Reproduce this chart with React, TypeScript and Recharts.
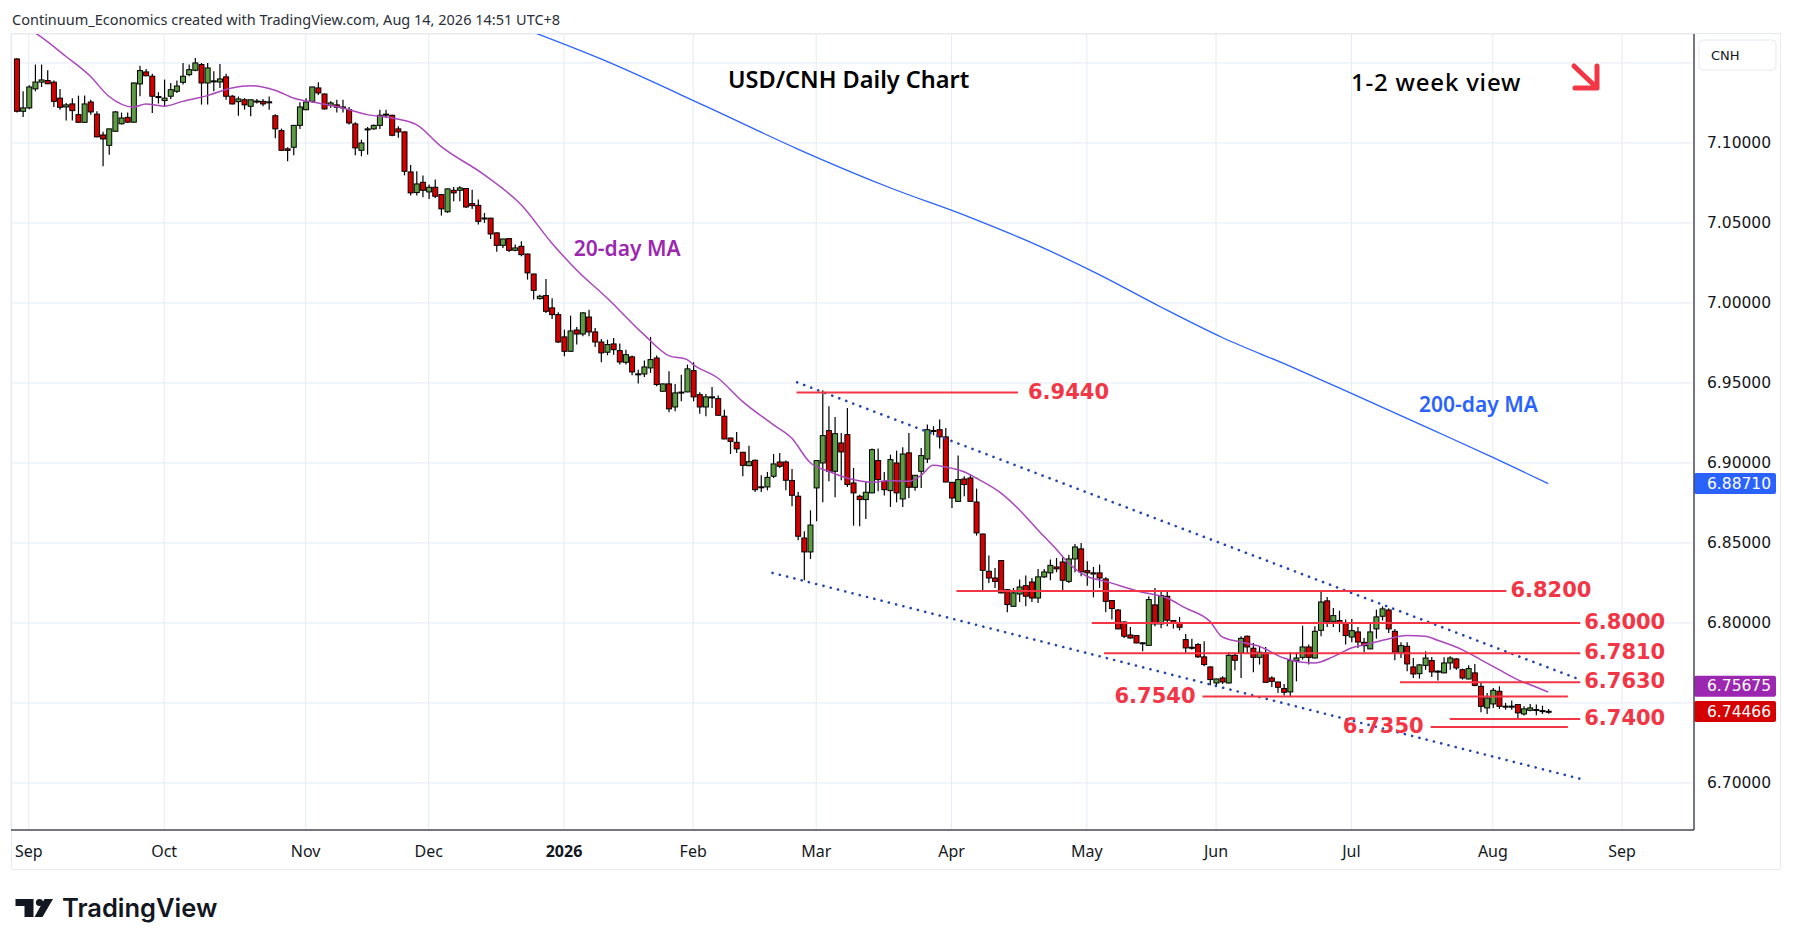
import React from "react";
import {
  ComposedChart,
  Bar,
  Line,
  XAxis,
  YAxis,
  CartesianGrid,
  ReferenceLine,
  ReferenceDot,
} from "recharts";

// candles as [open, high, low, close], one array per month
const aug25 = [
  [7.1525, 7.153, 7.119, 7.1198],
  [7.1198, 7.1323, 7.1163, 7.1219],
];
const sep25 = [
  [7.1219, 7.136, 7.121, 7.135], [7.1338, 7.149, 7.1323, 7.1381], [7.138, 7.149, 7.135, 7.1394],
  [7.139, 7.1454, 7.1369, 7.137], [7.138, 7.139, 7.1225, 7.126], [7.128, 7.1338, 7.1208, 7.1223],
  [7.1225, 7.125, 7.114, 7.1238], [7.1244, 7.128, 7.114, 7.1202], [7.1177, 7.1296, 7.1125, 7.1129],
  [7.1129, 7.1296, 7.1125, 7.1244], [7.1256, 7.127, 7.1177, 7.1194], [7.118, 7.1198, 7.1035, 7.1038],
  [7.105, 7.107, 7.0854, 7.1025], [7.0985, 7.109, 7.0927, 7.1088], [7.1073, 7.12, 7.107, 7.1194],
  [7.112, 7.119, 7.1115, 7.1156], [7.116, 7.119, 7.1125, 7.113], [7.113, 7.1378, 7.1125, 7.1375],
  [7.1369, 7.1483, 7.1292, 7.1452], [7.1444, 7.1463, 7.1417, 7.142], [7.1417, 7.1433, 7.1188, 7.1292],
  [7.129, 7.1317, 7.1246, 7.1284],
];
const oct25 = [
  [7.1265, 7.1396, 7.1225, 7.128], [7.1292, 7.1375, 7.1275, 7.1333], [7.1323, 7.139, 7.1313, 7.1356],
  [7.1379, 7.15, 7.1365, 7.1417], [7.1427, 7.149, 7.1417, 7.1458], [7.1454, 7.1531, 7.1448, 7.15],
  [7.149, 7.15, 7.124, 7.1375], [7.1375, 7.15, 7.124, 7.1469], [7.1388, 7.1448, 7.1323, 7.1385],
  [7.1381, 7.1494, 7.1344, 7.14], [7.1413, 7.1433, 7.127, 7.1292], [7.1292, 7.13, 7.124, 7.1244],
  [7.1258, 7.129, 7.117, 7.1275], [7.127, 7.128, 7.1208, 7.1238], [7.1229, 7.1272, 7.1167, 7.127],
  [7.1262, 7.1275, 7.1246, 7.126], [7.126, 7.1275, 7.123, 7.1244], [7.1257, 7.129, 7.1208, 7.1255],
  [7.117, 7.118, 7.103, 7.1088], [7.1077, 7.109, 7.0952, 7.0954], [7.0963, 7.0973, 7.0885, 7.0954],
  [7.0973, 7.1112, 7.0923, 7.111], [7.111, 7.1254, 7.1088, 7.1225],
];
const nov25 = [
  [7.1208, 7.128, 7.1205, 7.1256], [7.126, 7.1352, 7.125, 7.135], [7.1344, 7.138, 7.13, 7.1313],
  [7.1306, 7.131, 7.1208, 7.1213], [7.1235, 7.126, 7.122, 7.125], [7.1238, 7.127, 7.119, 7.1223],
  [7.1225, 7.127, 7.119, 7.1222], [7.1208, 7.1225, 7.1115, 7.1125], [7.1119, 7.1129, 7.0923, 7.0969],
  [7.0954, 7.102, 7.0917, 7.1], [7.1087, 7.11, 7.0927, 7.1088], [7.1088, 7.1115, 7.1083, 7.111],
  [7.111, 7.1208, 7.1088, 7.1173], [7.118, 7.1208, 7.1156, 7.1178], [7.1173, 7.1177, 7.1042, 7.1048],
  [7.1088, 7.1104, 7.1033, 7.1069], [7.1069, 7.1072, 7.0798, 7.0823], [7.0819, 7.0863, 7.0671, 7.0688],
  [7.069, 7.0823, 7.0671, 7.0744], [7.0754, 7.0796, 7.066, 7.0704],
];
const dec25 = [
  [7.0694, 7.074, 7.065, 7.0723], [7.0723, 7.0771, 7.0656, 7.0667], [7.0677, 7.068, 7.0546, 7.0588],
  [7.057, 7.0715, 7.0563, 7.0713], [7.0704, 7.0725, 7.0635, 7.0688], [7.0704, 7.073, 7.0635, 7.0719],
  [7.0715, 7.0719, 7.0594, 7.06], [7.0621, 7.0708, 7.0588, 7.0608], [7.061, 7.0646, 7.049, 7.051],
  [7.0531, 7.0563, 7.05, 7.0529], [7.053, 7.0532, 7.04, 7.0431], [7.0438, 7.044, 7.032, 7.036],
  [7.036, 7.0402, 7.0344, 7.04], [7.0402, 7.0406, 7.0319, 7.0329], [7.0329, 7.0365, 7.0323, 7.0344],
  [7.0354, 7.0385, 7.0292, 7.0302], [7.0306, 7.0308, 7.0146, 7.0188], [7.0181, 7.0183, 7.0021, 7.0079],
  [7.0027, 7.0052, 7.0021, 7.0042], [7.0046, 7.015, 6.9938, 6.9948], [6.9969, 7.003, 6.99, 6.9927],
  [6.9927, 6.9942, 6.975, 6.9756],
];
const jan26 = [
  [6.9788, 6.9833, 6.9667, 6.9698], [6.9698, 6.9921, 6.9695, 6.9825], [6.9831, 6.985, 6.974, 6.9806],
  [6.9806, 6.9942, 6.9792, 6.9938], [6.9912, 6.9958, 6.9792, 6.9819], [6.9819, 6.9844, 6.9725, 6.9756],
  [6.9756, 6.9775, 6.9629, 6.9688], [6.9692, 6.9771, 6.9673, 6.974], [6.9744, 6.9781, 6.9677, 6.9708],
  [6.9702, 6.9746, 6.9615, 6.9631], [6.9629, 6.9708, 6.9615, 6.9677], [6.9663, 6.9671, 6.9548, 6.9569],
  [6.9557, 6.9583, 6.9496, 6.9555], [6.9556, 6.964, 6.9538, 6.96], [6.9594, 6.9788, 6.9563, 6.9646],
  [6.9656, 6.9671, 6.9479, 6.949], [6.9448, 6.9496, 6.9446, 6.9494], [6.9494, 6.9573, 6.9317, 6.9338],
  [6.935, 6.9494, 6.9323, 6.9438], [6.9443, 6.9552, 6.9385, 6.9441], [6.9444, 6.9615, 6.9442, 6.9588],
];
const feb26 = [
  [6.9577, 6.9629, 6.9385, 6.9413], [6.9427, 6.9442, 6.9308, 6.935], [6.935, 6.9431, 6.9292, 6.9413],
  [6.9413, 6.9475, 6.9344, 6.941], [6.9402, 6.9421, 6.9296, 6.9298], [6.9292, 6.9333, 6.9148, 6.915],
  [6.9156, 6.9158, 6.9056, 6.9135], [6.9129, 6.9194, 6.9063, 6.9088], [6.9067, 6.9069, 6.8917, 6.8985],
  [6.8983, 6.9108, 6.8979, 6.9008], [6.9017, 6.9021, 6.8819, 6.8833], [6.8851, 6.8923, 6.8819, 6.8849],
  [6.885, 6.8944, 6.8829, 6.891], [6.8917, 6.9056, 6.8906, 6.8994], [6.9006, 6.9063, 6.8969, 6.8979],
  [6.9006, 6.9015, 6.8829, 6.8892], [6.889, 6.8963, 6.8729, 6.8798], [6.8792, 6.8819, 6.8517, 6.8542],
  [6.8531, 6.8573, 6.8267, 6.8444], [6.8444, 6.8704, 6.84, 6.8612],
];
const mar26 = [
  [6.8844, 6.9017, 6.8635, 6.9015], [6.9, 6.9454, 6.8754, 6.9171], [6.9202, 6.9354, 6.8885, 6.8948],
  [6.8948, 6.9288, 6.8785, 6.9183], [6.9125, 6.9188, 6.8892, 6.9069], [6.9177, 6.9344, 6.885, 6.8865],
  [6.8875, 6.8969, 6.8608, 6.8813], [6.8792, 6.8802, 6.8604, 6.8771], [6.8771, 6.8885, 6.865, 6.8817],
  [6.8813, 6.909, 6.8811, 6.9083], [6.9015, 6.909, 6.8823, 6.8896], [6.8885, 6.8944, 6.8796, 6.8833],
  [6.8827, 6.9052, 6.8725, 6.9021], [6.9, 6.9077, 6.8754, 6.8813], [6.8775, 6.9098, 6.8725, 6.9056],
  [6.9063, 6.9188, 6.8781, 6.8848], [6.8848, 6.8925, 6.8827, 6.8923], [6.8948, 6.9094, 6.8844, 6.9046],
  [6.9025, 6.924, 6.9, 6.9208], [6.9203, 6.923, 6.9173, 6.9201], [6.9208, 6.9271, 6.909, 6.9163],
  [6.9163, 6.9219, 6.8879, 6.8881],
];
const apr26 = [
  [6.8879, 6.8881, 6.8719, 6.8781], [6.876, 6.9046, 6.8758, 6.8896], [6.89, 6.8917, 6.8792, 6.8865],
  [6.8906, 6.8931, 6.8758, 6.876], [6.8756, 6.884, 6.8546, 6.8563], [6.8556, 6.8558, 6.8204, 6.8329],
  [6.8323, 6.8421, 6.825, 6.8281], [6.8281, 6.8344, 6.8219, 6.826], [6.839, 6.8392, 6.8186, 6.8188],
  [6.8208, 6.821, 6.8067, 6.8115], [6.8104, 6.8219, 6.8102, 6.8188], [6.8181, 6.8271, 6.8131, 6.8225],
  [6.8233, 6.8296, 6.8104, 6.8167], [6.8256, 6.8281, 6.8131, 6.8156], [6.8156, 6.8338, 6.8125, 6.8288],
  [6.8288, 6.8338, 6.8281, 6.8319], [6.8313, 6.8396, 6.8267, 6.836], [6.835, 6.8406, 6.8317, 6.8338],
  [6.8381, 6.841, 6.8198, 6.8267], [6.826, 6.8427, 6.825, 6.84], [6.84, 6.8494, 6.8317, 6.8475],
  [6.8463, 6.85, 6.8292, 6.8319],
];
const may26 = [
  [6.8327, 6.8385, 6.8233, 6.8313], [6.8313, 6.835, 6.816, 6.8306], [6.8313, 6.8365, 6.8219, 6.8281],
  [6.8275, 6.8285, 6.8067, 6.8135], [6.814, 6.8142, 6.8021, 6.809], [6.8081, 6.8088, 6.7961, 6.7963],
  [6.8006, 6.801, 6.7906, 6.7917], [6.7925, 6.7975, 6.7902, 6.7906], [6.7921, 6.7923, 6.7873, 6.7875],
  [6.7876, 6.788, 6.7823, 6.7874], [6.786, 6.8167, 6.7858, 6.8146], [6.8113, 6.8219, 6.7979, 6.7994],
  [6.7994, 6.8202, 6.7967, 6.8171], [6.8167, 6.8196, 6.7979, 6.8017], [6.8015, 6.8017, 6.7965, 6.8],
  [6.8, 6.8038, 6.7954, 6.7973], [6.7896, 6.7931, 6.7813, 6.7844], [6.7848, 6.7902, 6.7833, 6.7845],
  [6.7865, 6.7875, 6.7781, 6.7788], [6.7788, 6.7885, 6.7729, 6.774], [6.7725, 6.7729, 6.761, 6.7646],
];
const jun26 = [
  [6.7625, 6.7652, 6.7604, 6.765], [6.7656, 6.7667, 6.7619, 6.7631], [6.7625, 6.7819, 6.7621, 6.7798],
  [6.7798, 6.7813, 6.7704, 6.7767], [6.7813, 6.7917, 6.7656, 6.7904], [6.7917, 6.7921, 6.7813, 6.785],
  [6.7842, 6.7875, 6.7692, 6.7785], [6.7785, 6.7854, 6.774, 6.7817], [6.7813, 6.785, 6.7627, 6.7629],
  [6.7656, 6.7667, 6.76, 6.7635], [6.7631, 6.7633, 6.7563, 6.7598], [6.759, 6.7619, 6.7546, 6.7567],
  [6.7569, 6.7817, 6.7542, 6.7765], [6.7765, 6.7817, 6.7635, 6.7781], [6.7785, 6.7983, 6.7771, 6.785],
  [6.785, 6.7865, 6.774, 6.7785], [6.7781, 6.7979, 6.7779, 6.7948], [6.7954, 6.8194, 6.7917, 6.8131],
  [6.8138, 6.8163, 6.7975, 6.801], [6.801, 6.8094, 6.7975, 6.8046], [6.8015, 6.8077, 6.7942, 6.8],
  [6.7996, 6.8021, 6.7865, 6.7921],
];
const jul26 = [
  [6.7912, 6.8025, 6.7879, 6.7952], [6.7944, 6.7975, 6.7844, 6.7881], [6.7879, 6.7906, 6.7817, 6.7858],
  [6.7838, 6.8, 6.7836, 6.7944], [6.7963, 6.8083, 6.7902, 6.8038], [6.8042, 6.8104, 6.8015, 6.8088],
  [6.8081, 6.8092, 6.7938, 6.7963], [6.7948, 6.7963, 6.7767, 6.7817], [6.7813, 6.7879, 6.7781, 6.7858],
  [6.7854, 6.7879, 6.7698, 6.7744], [6.7725, 6.7781, 6.7656, 6.7681], [6.7683, 6.7744, 6.7652, 6.7738],
  [6.7735, 6.7823, 6.7708, 6.7781], [6.7765, 6.7788, 6.7663, 6.7694], [6.7699, 6.7704, 6.764, 6.7697],
  [6.7688, 6.7785, 6.7686, 6.775], [6.775, 6.7792, 6.7708, 6.7781], [6.7775, 6.7781, 6.7708, 6.7719],
  [6.7708, 6.7715, 6.7646, 6.7656], [6.765, 6.7735, 6.7646, 6.7715], [6.7688, 6.7744, 6.7604, 6.761],
  [6.7604, 6.7625, 6.7442, 6.7479], [6.7469, 6.7563, 6.7431, 6.7531],
];
const aug26 = [
  [6.7494, 6.7594, 6.7469, 6.7579], [6.7573, 6.7604, 6.7463, 6.7479], [6.748, 6.75, 6.7458, 6.7478],
  [6.748, 6.7515, 6.7458, 6.7479], [6.749, 6.7492, 6.7406, 6.7438], [6.7431, 6.7479, 6.7421, 6.7463],
  [6.7454, 6.7494, 6.7448, 6.7469], [6.7459, 6.749, 6.7423, 6.7457], [6.7452, 6.7483, 6.7431, 6.745],
  [6.7448, 6.7463, 6.7433, 6.7447],
];

// 20-day and 200-day moving averages, [bar index, value]
const ma20Points = [
  [-3, 7.176], [1, 7.1688], [6, 7.1542], [10, 7.1417], [13, 7.1292], [17, 7.1225], [19, 7.1244],
  [22, 7.123], [25, 7.126], [29, 7.1296], [33, 7.1344], [36, 7.1358], [40, 7.1329], [43, 7.1281],
  [47, 7.125], [51, 7.1219], [55, 7.1177], [59, 7.1156], [63, 7.1115], [67, 7.0979], [74, 7.0802],
  [80, 7.0615], [85, 7.0375], [89, 7.0208], [94, 7.0031], [100, 6.9802], [104, 6.9671], [107, 6.9646],
  [108, 6.9615], [112, 6.9531], [116, 6.9385], [121, 6.924], [124, 6.9156], [127, 6.9003],
  [130, 6.8948], [134, 6.8896], [137, 6.8879], [140, 6.889], [143, 6.8885], [145, 6.8921],
  [147, 6.8985], [149, 6.8975], [152, 6.8945], [154, 6.8906], [158, 6.8813], [161, 6.8708],
  [164, 6.8583], [167, 6.8462], [169, 6.8375], [172, 6.8292], [175, 6.826], [181, 6.8192],
  [185, 6.8156], [188, 6.8094], [192, 6.801], [194, 6.7913], [197, 6.7881], [200, 6.7854],
  [204, 6.7781], [207, 6.7754], [209, 6.775], [212, 6.7788], [215, 6.7844], [218, 6.7871],
  [221, 6.79], [224, 6.7921], [227, 6.7917], [229, 6.7892], [233, 6.7833], [236, 6.7771],
  [239, 6.7708], [242, 6.7646], [245, 6.76], [247, 6.7568],
];
const ma200Points = [
  [78, 7.175], [93, 7.1525], [110, 7.123], [125, 7.0962], [140, 7.072], [153, 7.0535], [164, 7.036],
  [174, 7.0177], [184, 6.9975], [194, 6.9784], [205, 6.9605], [215, 6.9435], [228, 6.921],
  [238, 6.9035], [247, 6.8871],
];

const monthTicks = [0, 22, 45, 65, 87, 108, 128, 150, 172, 193, 215, 238, 259];
const monthLabels = ["Sep", "Oct", "Nov", "Dec", "2026", "Feb", "Mar", "Apr", "May", "Jun", "Jul", "Aug", "Sep"];
const priceTicks = [6.7, 6.75, 6.8, 6.85, 6.9, 6.95, 7.0, 7.05, 7.1, 7.15];
const hiddenPriceTicks = [6.75, 7.15];

// support / resistance levels: [price, from index, to index, label side]
const levels: [number, number, number, string][] = [
  [6.944, 124.8, 160.8, "right"],
  [6.82, 150.8, 240.2, "right"],
  [6.8, 172.8, 252.2, "right"],
  [6.781, 174.8, 252.2, "right"],
  [6.763, 222.9, 252.2, "right"],
  [6.754, 190.8, 250.2, "left"],
  [6.74, 231.0, 252.2, "right"],
  [6.735, 227.9, 250.2, "left"],
];
const channelUpper = [[124.9, 6.9504], [252.3, 6.7644]];
const channelLower = [[120.9, 6.8313], [252.3, 6.7025]];

const lastValues = { ma200: 6.8871, ma20: 6.75675, close: 6.74466 };

const FIRST_INDEX = -2;
const GREEN = "#5d9c43";
const RED = "#d40000";
const LEVEL_RED = "#f23645";
const TEXT = "#131722";
const UI_FONT = "'Noto Sans', 'Open Sans', sans-serif";
const LEVEL_FONT = "'DejaVu Sans', sans-serif";

const candles = [
  ...aug25, ...sep25, ...oct25, ...nov25, ...dec25, ...jan26, ...feb26,
  ...mar26, ...apr26, ...may26, ...jun26, ...jul26, ...aug26,
];

const buildRows = () => {
  const rows: Record<number, any> = {};
  const row = (i: number) => (rows[i] = rows[i] || { i });
  candles.forEach((c, k) => {
    const r = row(FIRST_INDEX + k);
    r.o = c[0];
    r.h = c[1];
    r.l = c[2];
    r.c = c[3];
    r.range = [c[2], c[1]];
  });
  ma20Points.forEach(([i, v]) => (row(i).ma20 = v));
  ma200Points.forEach(([i, v]) => (row(i).ma200 = v));
  return Object.values(rows).sort((a: any, b: any) => a.i - b.i);
};
const rows = buildRows();

const Candle = (props: any) => {
  const { x, y, width, height, payload } = props;
  if (!payload || payload.h == null) return null;
  const top = Math.min(y, y + height);
  const full = Math.abs(height);
  const per = full / (payload.h - payload.l);
  const yO = top + (payload.h - payload.o) * per;
  const yC = top + (payload.h - payload.c) * per;
  const cx = x + width / 2;
  const up = payload.c >= payload.o;
  return (
    <g>
      <line x1={cx} x2={cx} y1={top} y2={top + full} stroke="#000" strokeWidth={1.2} />
      <rect
        x={x}
        y={Math.min(yO, yC)}
        width={width}
        height={Math.max(Math.abs(yC - yO), 1)}
        fill={up ? GREEN : RED}
        stroke="#000"
        strokeWidth={1}
      />
    </g>
  );
};

const MonthTick = (props: any) => {
  const { x, y, payload } = props;
  const k = monthTicks.indexOf(payload.value);
  const label = monthLabels[k];
  return (
    <text
      x={x}
      y={y + 21}
      textAnchor="middle"
      dominantBaseline="central"
      fontFamily={UI_FONT}
      fontSize={16}
      fontWeight={label === "2026" ? 700 : 400}
      fill={TEXT}
    >
      {label}
    </text>
  );
};

const PriceTick = (props: any) => {
  const { x, y, payload } = props;
  if (hiddenPriceTicks.some((h) => Math.abs(h - payload.value) < 1e-6)) return null;
  return (
    <text x={x + 13} y={y} dominantBaseline="central" fontFamily={LEVEL_FONT} fontSize={15.5} fill={TEXT}>
      {payload.value.toFixed(5)}
    </text>
  );
};

const levelLabel = (text: string, side: string, gap: number) => (props: any) => {
  const vb = props.viewBox || {};
  const yMid = vb.y + (vb.height || 0) / 2 - 1;
  const xPos = side === "right" ? vb.x + vb.width + gap : vb.x - gap;
  return (
    <text
      x={xPos}
      y={yMid}
      textAnchor={side === "right" ? "start" : "end"}
      dominantBaseline="central"
      fontFamily={LEVEL_FONT}
      fontWeight={700}
      fontSize={21}
      fill={LEVEL_RED}
    >
      {text}
    </text>
  );
};

const badge = (value: number, color: string, shift: number) => (props: any) => {
  const vb = props.viewBox || {};
  const x0 = vb.x + vb.width;
  const yMid = vb.y + shift;
  return (
    <g>
      <rect x={x0} y={yMid - 10.5} width={82} height={21} rx={2} fill={color} />
      <text x={x0 + 13} y={yMid} dominantBaseline="central" fontFamily={LEVEL_FONT} fontSize={15.5} fill="#fff">
        {value.toFixed(5)}
      </text>
    </g>
  );
};

const maLabel = (text: string, color: string) => (props: any) => {
  const vb = props.viewBox || {};
  return (
    <text
      x={vb.x + (vb.width || 0) / 2}
      y={vb.y + (vb.height || 0) / 2}
      dominantBaseline="central"
      fontFamily={UI_FONT}
      fontWeight={600}
      fontSize={21}
      fill={color}
    >
      {text}
    </text>
  );
};

const App: React.FC = () => {
  return (
    <div style={{ position: "absolute", left: 0, top: 0, width: 1794, height: 946, background: "#fff" }}>
      {/* chart frame */}
      <div
        style={{
          position: "absolute",
          left: 11,
          top: 33,
          width: 1770,
          height: 837,
          border: "1px solid #e6e9ef",
          boxSizing: "border-box",
        }}
      />
      <div style={{ position: "absolute", left: 0, top: 0 }}>
        <ComposedChart
          width={1794}
          height={946}
          data={rows}
          margin={{ top: 34, right: 13, bottom: 76, left: 11 }}
        >
          <CartesianGrid stroke="#e4ebf3" strokeWidth={1} />
          <XAxis
            dataKey="i"
            type="number"
            domain={[-2.9, 270.7]}
            allowDataOverflow
            ticks={monthTicks}
            interval={0}
            tickLine={false}
            tickSize={0}
            tickMargin={0}
            tick={<MonthTick />}
            height={40}
            axisLine={{ stroke: "#4a4d57", strokeWidth: 1.5 }}
          />
          <YAxis
            orientation="right"
            type="number"
            domain={[6.6706, 7.1681]}
            allowDataOverflow
            ticks={priceTicks}
            interval={0}
            tickLine={false}
            tickSize={0}
            tickMargin={0}
            tick={<PriceTick />}
            width={87}
            axisLine={{ stroke: "#4a4d57", strokeWidth: 1.5 }}
          />
          <Line
            dataKey="ma200"
            type="monotone"
            stroke="#2962ff"
            strokeWidth={1.3}
            dot={false}
            connectNulls
            isAnimationActive={false}
          />
          <Line
            dataKey="ma20"
            type="monotone"
            stroke="#ab47bc"
            strokeWidth={1.5}
            dot={false}
            connectNulls
            isAnimationActive={false}
          />
          <ReferenceLine
            segment={channelUpper.map(([x, y]) => ({ x, y }))}
            stroke="#2446a8"
            strokeWidth={2.6}
            strokeDasharray="0.1 7.4"
            strokeLinecap="round"
            ifOverflow="visible"
          />
          <ReferenceLine
            segment={channelLower.map(([x, y]) => ({ x, y }))}
            stroke="#2446a8"
            strokeWidth={2.6}
            strokeDasharray="0.1 7.4"
            strokeLinecap="round"
            ifOverflow="visible"
          />
          {levels.map(([price, from, to, side]) => (
            <ReferenceLine
              key={price}
              segment={[
                { x: from, y: price },
                { x: to, y: price },
              ]}
              stroke={LEVEL_RED}
              strokeWidth={2}
              ifOverflow="visible"
              label={levelLabel(price.toFixed(4), side, price === 6.944 ? 10 : side === "left" ? 7 : 4)}
            />
          ))}
          <Bar
            dataKey="range"
            barSize={5}
            shape={<Candle />}
            isAnimationActive={false}
          />
          <ReferenceDot x={88.6} y={7.0344} r={1} fill="none" stroke="none" label={maLabel("20-day MA", "#9c27b0")} />
          <ReferenceDot x={226} y={6.9369} r={1} fill="none" stroke="none" label={maLabel("200-day MA", "#2962ff")} />
          <ReferenceLine y={lastValues.ma200} stroke="none" ifOverflow="visible" label={badge(lastValues.ma200, "#2962ff", 0)} />
          <ReferenceLine y={lastValues.ma20} stroke="none" ifOverflow="visible" label={badge(lastValues.ma20, "#9c27b0", -6)} />
          <ReferenceLine y={lastValues.close} stroke="none" ifOverflow="visible" label={badge(lastValues.close, "#d50000", 0)} />
        </ComposedChart>
      </div>

      {/* header and annotations */}
      <div
        style={{
          position: "absolute",
          left: 12,
          top: 9,
          fontFamily: UI_FONT,
          fontSize: 14.5,
          color: "#2a2e39",
          whiteSpace: "nowrap",
        }}
      >
        Continuum_Economics created with TradingView.com, Aug 14, 2026 14:51 UTC+8
      </div>
      <div
        style={{
          position: "absolute",
          left: 728,
          top: 63,
          fontFamily: UI_FONT,
          fontWeight: 600,
          fontSize: 23.5,
          color: "#000",
          whiteSpace: "nowrap",
        }}
      >
        USD/CNH Daily Chart
      </div>
      <div
        style={{
          position: "absolute",
          left: 1351,
          top: 65,
          fontFamily: UI_FONT,
          fontWeight: 500,
          fontSize: 24,
          letterSpacing: 0.8,
          color: "#000",
          whiteSpace: "nowrap",
        }}
      >
        1-2 week view
      </div>
      <svg style={{ position: "absolute", left: 0, top: 0 }} width={1794} height={946}>
        {/* arrow */}
        <g stroke={LEVEL_RED} strokeWidth={5} fill="none" strokeLinecap="round" strokeLinejoin="round">
          <line x1={1574} y1={66} x2={1596} y2={87} />
          <polyline points="1597,66 1597,88 1575,88" />
        </g>
        {/* CNH box */}
        <rect x={1699} y={40} width={77} height={30} rx={4} fill="#fff" stroke="#e6e9ef" />
        <text x={1711} y={55} dominantBaseline="central" fontFamily={LEVEL_FONT} fontSize={13} fill={TEXT}>
          CNH
        </text>
        {/* TradingView logo */}
        <g fill={TEXT}>
          <path d="M15.5 899 H33.5 V917 H24.5 V906 H15.5 Z" />
          <circle cx={39.5} cy={902.5} r={3.6} />
          <path d="M44.5 899 H53 L42.5 917 H34.5 Z" />
        </g>
        <text x={62} y={917} fontFamily="Inter, 'Noto Sans', sans-serif" fontWeight={600} fontSize={25.5} fill={TEXT}>
          TradingView
        </text>
      </svg>
    </div>
  );
};

export default App;
